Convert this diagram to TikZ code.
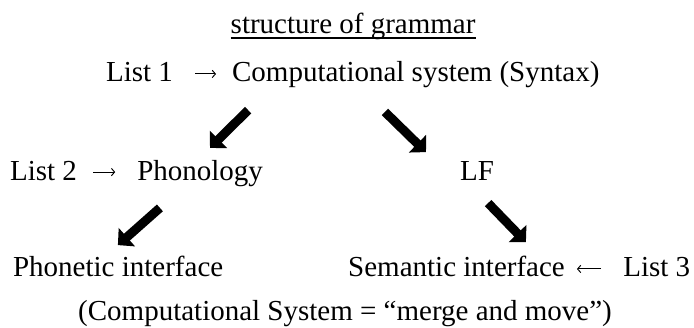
\documentclass[tikz,border=0pt]{standalone}
\usepackage{fontspec}
\setmainfont{Liberation Serif}
\usepackage{tikz}
\usetikzlibrary{arrows.meta}
\usetikzlibrary{positioning}
\tikzset{word/.style = {inner sep = 0, text height = 0.75cm, text depth = 0.22cm,
                        font = \fontsize{27.5}{33}\selectfont}}
\tikzset{fatarrow/.style = {line width = 0.3cm,
                            -{Triangle[length = 0.4cm, width = 0.8cm]}}}
\tikzset{slimarrow/.style = {line width = 0.9pt,
                             -{Straight Barb[length = 3pt, width = 7pt]}}}

\begin{document}
\begin{tikzpicture}
    \useasboundingbox (0, 0) rectangle (23.133, -10.9);

    \node [word, anchor=base] (title) at (11.77, -1.13) {structure of grammar};
    \draw [line width=1.6pt] ([yshift=-4pt]title.base west) -- ([yshift=-4pt]title.base east);

    \node [word, anchor=base west] (list1) at (3.53, -2.73) {List 1};
    \node [word, anchor=base west] (cs) at (7.73, -2.73) {Computational system (Syntax)};
    \draw [slimarrow, shorten <=0.73cm, shorten >=0.53cm] (list1) -- (cs);

    \node [word, anchor=base west] (list2) at (0.33, -6) {List 2};
    \node [word, anchor=base west] (phon) at (4.57, -6) {Phonology};
    \node [word, anchor=base west] (lf) at (15.33, -6) {LF};
    \draw [slimarrow, shorten <=0.53cm, shorten >=0.73cm] (list2) -- (phon);

    \node [word, anchor=base west] (phonetic) at (0.43, -9.23) {Phonetic interface};
    \node [word, anchor=base west] (semantic) at (11.6, -9.23) {Semantic interface};
    \node [word, anchor=base west] (list3) at (20.77, -9.23) {List 3};
    \draw [slimarrow, shorten <=0.73cm, shorten >=0.4cm] (list3) -- (semantic);

    \node [word, anchor=base] (note) at (11.5, -10.67)
        {(Computational System = “merge and move”)};

    % big arrows between the levels
    \coordinate (t1) at (8.27, -3.67);
    \coordinate (h1) at (7.0, -4.93);
    \coordinate (t2) at (12.83, -3.73);
    \coordinate (h2) at (14.2, -5.07);
    \coordinate (t3) at (5.33, -6.93);
    \coordinate (h3) at (3.93, -8.17);
    \coordinate (t4) at (16.27, -6.77);
    \coordinate (h4) at (17.53, -8.07);

    \draw [fatarrow] (t1) -- (h1);
    \draw [fatarrow] (t2) -- (h2);
    \draw [fatarrow] (t3) -- (h3);
    \draw [fatarrow] (t4) -- (h4);
\end{tikzpicture}
\end{document}
